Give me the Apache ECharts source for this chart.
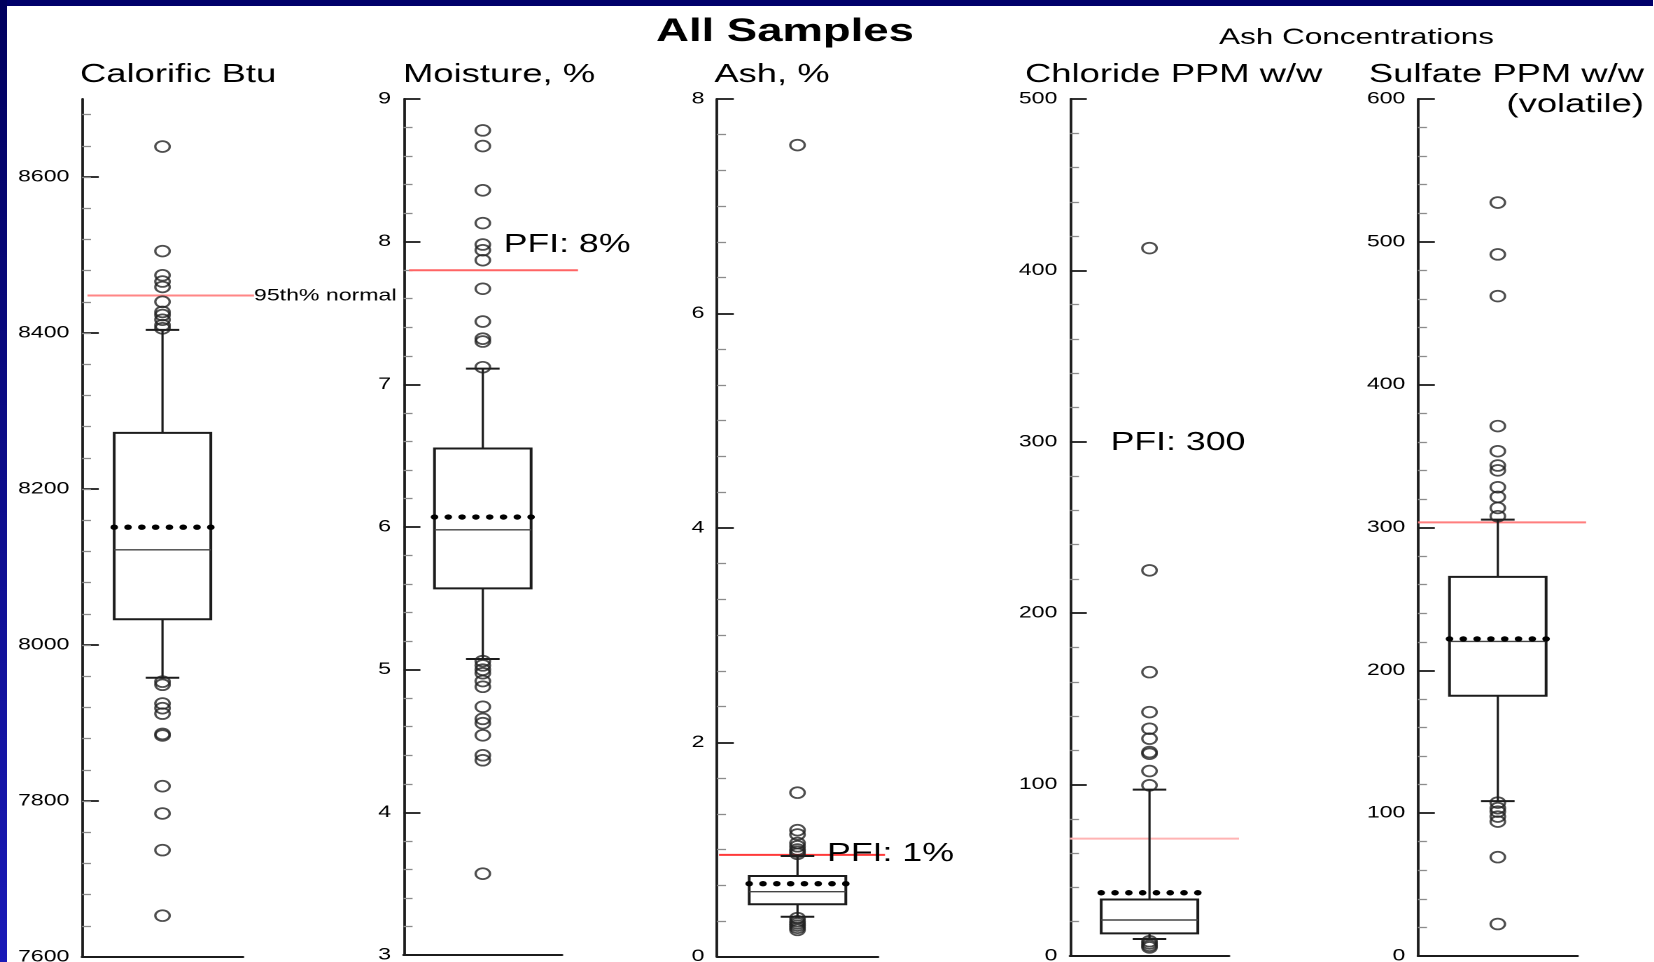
<!DOCTYPE html>
<html>
<head>
<meta charset="utf-8">
<script src="https://cdn.jsdelivr.net/npm/echarts@6/dist/echarts.min.js"></script>
<style>
html,body{margin:0;padding:0;background:#fff;overflow:hidden;}
#wrap{width:1654px;height:962px;overflow:hidden;position:relative;}
#chart{width:1181.43px;height:962px;transform:scaleX(1.4);transform-origin:0 0;}
</style>
</head>
<body>
<div id="wrap"><div id="chart"></div></div>
<script>
// ---------------- data ----------------
const panelTitles = ['Calorific Btu', 'Moisture, %', 'Ash, %', 'Chloride PPM w/w', 'Sulfate PPM w/w'];

// box statistics: [lower whisker, Q1, median, Q3, upper whisker]
const calorificBox = [7958, 8033, 8122, 8272, 8404];
const moistureBox  = [5.075, 5.57, 5.98, 6.55, 7.11];
const ashBox       = [0.373, 0.489, 0.606, 0.753, 0.939];
const chlorideBox  = [9.9, 13.2, 21.0, 33.0, 97.1];
const sulfateBox   = [108.4, 182.2, 220.2, 265.4, 305.5];

const meanValues = [8151, 6.07, 0.681, 36.9, 222];

const calorificOutliers = [8639, 8505, 8474, 8466, 8459, 8440, 8427, 8423, 8417, 8410, 8406,
  7953, 7949, 7925, 7919, 7912, 7886, 7884, 7819, 7784, 7737, 7653];
const moistureOutliers = [8.78, 8.67, 8.36, 8.13, 7.98, 7.94, 7.87, 7.67, 7.44, 7.32, 7.30, 7.12,
  5.06, 5.03, 5.00, 4.975, 4.92, 4.88, 4.74, 4.655, 4.625, 4.54, 4.40, 4.365, 3.57];
const ashOutliers = [7.57, 1.53, 1.18, 1.14, 1.06, 1.03, 1.0, 0.98, 0.96,
  0.36, 0.33, 0.31, 0.29, 0.27, 0.25];
const chlorideOutliers = [413, 225, 165.6, 142.3, 132.6, 126.8, 119, 118, 107.9, 99.6,
  8.6, 7.3, 6.0, 5.0];
const sulfateOutliers = [527.5, 491.2, 462, 371, 353.4, 343.4, 340, 328.2, 321.4, 313.7, 307.9,
  107.4, 103.5, 101.1, 97.6, 94.1, 69.2, 22.4];

const limitValues = [8448, 7.80, 0.95, 68.5, 303.6];
const limitLabels = ['95th% normal', 'PFI: 8%', 'PFI: 1%', 'PFI: 300', ''];

const axisMin  = [7600, 3, 0, 0, 0];
const axisMax  = [8700, 9, 8, 500, 600];
const axisStep = [200, 1, 2, 100, 100];
const minorSplit = [5, 5, 6, 5, 5];
const calorificTicks = [7600, 7800, 8000, 8200, 8400, 8600];
const calorificMinorStep = 40;

const boxes = [calorificBox, moistureBox, ashBox, chlorideBox, sulfateBox];
const outliers = [calorificOutliers, moistureOutliers, ashOutliers, chlorideOutliers, sulfateOutliers];

// ---------------- layout / style ----------------
const S = 1.4; // horizontal stretch of the whole picture
const FONT = "'Liberation Sans', Arial, Helvetica, sans-serif";
const INK = '#1c1c1c';
const gridLeftPx   = [82, 403.6, 717, 1070, 1418];
const gridRightPx  = [243, 562, 878, 1229, 1577.6];
const gridTopPx    = 99;
const gridBottomPx = [957, 955, 956.7, 956, 956];
// limit line: start offset from the axis and overhang past the panel end (screen px)
const limitStartPx = [5.5, 5.4, 2, 0, 0];
const limitOverPx  = [11, 16, 7, 10, 8.5];
const limitColors = ['#ff8686', '#ff6464', '#ff3a3a', '#ffb4b4', '#ff7e7e'];
const BOX_HALF = 34.5, CAP_HALF = 12;

const calorificMinor = [];
for (let v = axisMin[0] + calorificMinorStep; v < axisMax[0]; v += calorificMinorStep) calorificMinor.push(v);

function renderBox(params, api) {
  const x = api.value(0);
  const lo = api.coord([x, api.value(1)]);
  const q1 = api.coord([x, api.value(2)]);
  const md = api.coord([x, api.value(3)]);
  const q3 = api.coord([x, api.value(4)]);
  const hi = api.coord([x, api.value(5)]);
  const mn = api.coord([x, api.value(6)]);
  const cx = q1[0];
  const hw = BOX_HALF, cw = CAP_HALF;
  const st = {stroke: INK, lineWidth: 1.6, fill: null};
  const children = [
    {type: 'line', shape: {x1: cx, y1: q3[1], x2: cx, y2: hi[1]}, style: st},
    {type: 'line', shape: {x1: cx, y1: q1[1], x2: cx, y2: lo[1]}, style: st},
    {type: 'line', shape: {x1: cx - cw, y1: hi[1], x2: cx + cw, y2: hi[1]}, style: {stroke: INK, lineWidth: 2}},
    {type: 'line', shape: {x1: cx - cw, y1: lo[1], x2: cx + cw, y2: lo[1]}, style: {stroke: INK, lineWidth: 2}},
    {type: 'rect', shape: {x: cx - hw, y: q3[1], width: 2 * hw, height: q1[1] - q3[1]},
      style: {stroke: INK, lineWidth: 2, fill: 'rgba(255,255,255,0)'}},
    {type: 'line', shape: {x1: cx - hw, y1: md[1], x2: cx + hw, y2: md[1]}, style: {stroke: '#444', lineWidth: 1.4}}
  ];
  for (let k = 0; k < 8; k++) {
    children.push({type: 'circle', shape: {cx: cx - hw + k * (2 * hw / 7), cy: mn[1], r: 2.7}, style: {fill: '#000'}});
  }
  return {type: 'group', children};
}

function makeLimitRenderer(i) {
  return function (params, api) {
    const v = api.value(0);
    const a = api.coord([0, v]);
    const b = api.coord([2, v]);
    return {
      type: 'line',
      shape: {x1: a[0] + limitStartPx[i] / S, y1: a[1], x2: b[0] + limitOverPx[i] / S, y2: b[1]},
      style: {stroke: limitColors[i], lineWidth: 2}
    };
  };
}

const grids = [], xAxes = [], yAxes = [], series = [];
for (let i = 0; i < 5; i++) {
  grids.push({
    left: gridLeftPx[i] / S, top: gridTopPx,
    width: (gridRightPx[i] - gridLeftPx[i]) / S,
    height: gridBottomPx[i] - gridTopPx,
    containLabel: false, outerBoundsMode: 'none'
  });
  xAxes.push({
    type: 'value', gridIndex: i, min: 0, max: 2,
    axisLine: {show: true, onZero: false, lineStyle: {color: INK, width: 2}},
    axisTick: {show: false}, axisLabel: {show: false}, splitLine: {show: false}
  });
  const y = {
    type: 'value', gridIndex: i, position: 'left', min: axisMin[i], max: axisMax[i], interval: axisStep[i],
    axisLine: {show: true, onZero: false, lineStyle: {color: INK, width: 1.9}},
    axisTick: {show: true, inside: true, length: 12, lineStyle: {color: INK, width: 1.8}},
    minorTick: {show: true, splitNumber: minorSplit[i], length: 6.4, lineStyle: {color: '#8c8c8c', width: 1.3}},
    splitLine: {show: false}, minorSplitLine: {show: false},
    axisLabel: {margin: 9, fontSize: 16.5, color: '#000', fontFamily: FONT, formatter: v => String(v)}
  };
  if (i === 0) {
    y.axisTick.customValues = calorificTicks;
    y.axisLabel.customValues = calorificTicks;
    y.minorTick = {show: false};
  }
  yAxes.push(y);
}
// minor ticks of the Calorific axis (every 40 Btu)
yAxes.push({
  type: 'value', gridIndex: 0, position: 'left', offset: 0, min: axisMin[0], max: axisMax[0],
  axisLine: {show: false}, axisLabel: {show: false}, splitLine: {show: false},
  axisTick: {show: true, inside: true, length: 6.4, customValues: calorificMinor,
    lineStyle: {color: '#8c8c8c', width: 1.3}}
});

for (let i = 0; i < 5; i++) {
  series.push({
    type: 'custom', xAxisIndex: i, yAxisIndex: i, z: 1, silent: true,
    renderItem: makeLimitRenderer(i),
    encode: {y: 0},
    data: [[limitValues[i]]]
  });
  series.push({
    type: 'custom', xAxisIndex: i, yAxisIndex: i, z: 2, silent: true,
    renderItem: renderBox,
    encode: {x: 0, y: [1, 2, 3, 4, 5, 6]},
    data: [[1].concat(boxes[i], [meanValues[i]])]
  });
  series.push({
    type: 'scatter', xAxisIndex: i, yAxisIndex: i, z: 3, silent: true,
    symbol: 'circle', symbolSize: [10.3, 10.8],
    itemStyle: {color: 'rgba(0,0,0,0)', borderColor: '#222', borderWidth: 1.7},
    data: outliers[i].map(v => [1, v])
  });
}

function txt(text, xPx, y, size, align, weight) {
  return {
    type: 'text', x: xPx / S, y: y, z: 50, silent: true,
    style: {
      text: text, fontSize: size, fontFamily: FONT, fontWeight: weight || 'normal', fill: '#000',
      align: align, textAlign: align, verticalAlign: 'middle', textVerticalAlign: 'middle'
    }
  };
}

const graphic = [
  {type: 'rect', z: 40, silent: true, shape: {x: 0, y: 0, width: 1654 / S, height: 6}, style: {fill: '#00006a'}},
  {type: 'rect', z: 40, silent: true, shape: {x: 0, y: 0, width: 7 / S, height: 962},
    style: {fill: new echarts.graphic.LinearGradient(0, 0, 0, 1, [
      {offset: 0, color: '#00005e'}, {offset: 1, color: '#1a1ab8'}])}},
  txt('All Samples', 785, 32, 32.5, 'center', 'bold'),
  txt('Ash Concentrations', 1356.5, 38, 22.5, 'center'),
  txt(panelTitles[0], 80, 75, 26, 'left'),
  txt(panelTitles[1], 403, 75, 26, 'left'),
  txt(panelTitles[2], 714.3, 75, 26, 'left'),
  txt(panelTitles[3], 1025, 75, 26, 'left'),
  txt(panelTitles[4], 1644, 75, 26, 'right'),
  txt('(volatile)', 1644, 105, 26, 'right'),
  txt(limitLabels[0], 254, 296, 16.5, 'left'),
  txt(limitLabels[1], 503.6, 245, 25.5, 'left'),
  txt(limitLabels[2], 827, 854, 25.5, 'left'),
  txt(limitLabels[3], 1110.5, 443, 25.5, 'left')
];

const chart = echarts.init(document.getElementById('chart'), null, {renderer: 'canvas', devicePixelRatio: 2});
chart.setOption({
  animation: false,
  backgroundColor: '#ffffff',
  grid: grids,
  xAxis: xAxes,
  yAxis: yAxes,
  series: series,
  graphic: graphic
});
</script>
</body>
</html>
